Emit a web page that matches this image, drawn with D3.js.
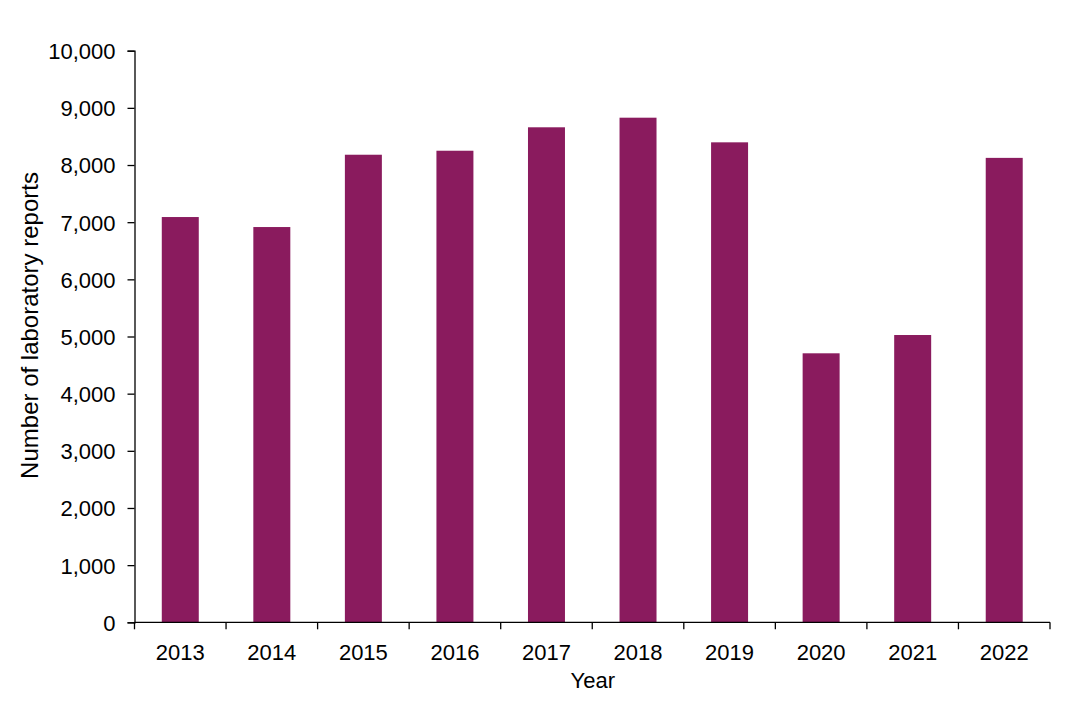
<!DOCTYPE html>
<html><head><meta charset="utf-8">
<script src="https://cdn.jsdelivr.net/npm/d3@7"></script>
<style>body{margin:0;background:#fff}svg{display:block}text{font-family:"Liberation Sans",Arial,sans-serif;fill:#000}</style>
</head><body><svg id="c" width="1089" height="721"></svg>
<script>
const years = ["2013","2014","2015","2016","2017","2018","2019","2020","2021","2022"];
const reports = [7090, 6915, 8180, 8250, 8660, 8828, 8397, 4706, 5026, 8125];
const yTicks = [0,1000,2000,3000,4000,5000,6000,7000,8000,9000,10000];

const svg = d3.select("#c");
const L = 134.5, R = 1050, T = 50.7, B = 622.3;
const x = d3.scaleBand().domain(years).range([L, R]).paddingInner(0.596).paddingOuter(0.298);
const xb = d3.scaleBand().domain(years).range([L, R]);
const y = d3.scaleLinear().domain([0, 10000]).range([B, T]);

svg.append("g").selectAll("rect").data(years).join("rect")
  .attr("x", d => x(d)).attr("width", x.bandwidth())
  .attr("y", (d,i) => y(reports[i])).attr("height", (d,i) => B - y(reports[i]))
  .attr("fill", "#8a1b5e");

// y axis
const ya = svg.append("g").attr("transform", `translate(${L},0)`)
  .call(d3.axisLeft(y).tickValues(yTicks).tickSize(7).tickPadding(12).tickFormat(d3.format(",")));
ya.select(".domain").attr("stroke", "#000").attr("stroke-width", 1.3);
ya.selectAll(".tick line").attr("stroke", "#000").attr("stroke-width", 1.3);
ya.selectAll(".tick text").attr("font-size", 22).attr("font-family", "Liberation Sans, Arial, sans-serif").attr("dy", "0.36em");

// x axis
const xa = svg.append("g").attr("transform", `translate(0,${B})`);
xa.append("line").attr("x1", L).attr("x2", R).attr("stroke", "#000").attr("stroke-width", 1.3);
const bounds = years.map(d => xb(d)).concat([R]);
xa.selectAll("line.t").data(bounds).join("line").attr("class","t")
  .attr("x1", d => d).attr("x2", d => d).attr("y1", 0).attr("y2", 7)
  .attr("stroke", "#000").attr("stroke-width", 1.3);
xa.selectAll("text").data(years).join("text")
  .attr("x", d => xb(d) + xb.bandwidth()/2).attr("y", 38)
  .attr("text-anchor", "middle").attr("font-size", 22).text(d => d);

svg.append("text").attr("x", (L+R)/2 + 0.5).attr("y", 688).attr("text-anchor","middle")
  .attr("font-size", 22).text("Year");
svg.append("text").attr("transform", `translate(38,${(T+B)/2-11}) rotate(-90)`)
  .attr("text-anchor","middle").attr("font-size", 24).text("Number of laboratory reports");
</script></body></html>
